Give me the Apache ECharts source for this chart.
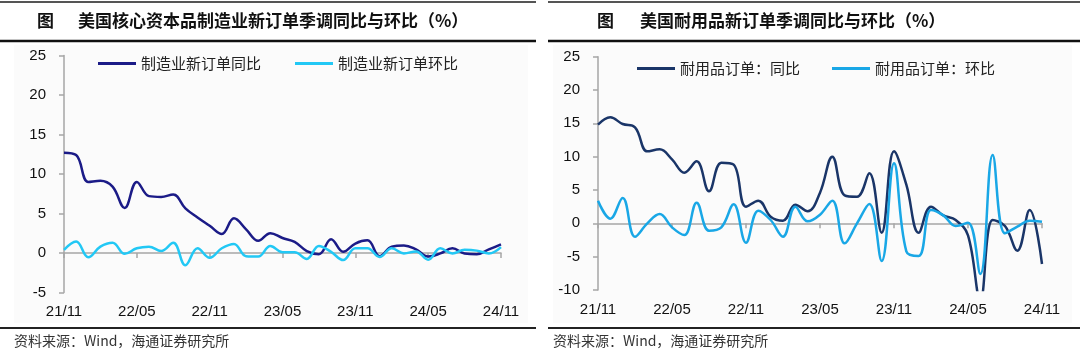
<!DOCTYPE html>
<html>
<head>
<meta charset="utf-8">
<script src="https://cdn.jsdelivr.net/npm/echarts@6/dist/echarts.min.js"></script>
<style>
html, body { margin: 0; padding: 0; background: #fff; }
#chart { width: 1080px; height: 351px; }
</style>
</head>
<body>
<div id="chart"></div>
<script>
// 月份（21/11 - 24/11）
var months = ['21/11','21/12',
  '22/01','22/02','22/03','22/04','22/05','22/06','22/07','22/08','22/09','22/10','22/11','22/12',
  '23/01','23/02','23/03','23/04','23/05','23/06','23/07','23/08','23/09','23/10','23/11','23/12',
  '24/01','24/02','24/03','24/04','24/05','24/06','24/07','24/08','24/09','24/10','24/11'];

// 左图：核心资本品制造业新订单
var capYoy = [12.7, 12.4, 9.0, 9.15, 8.4, 5.7, 9.0, 7.2, 7.1, 7.4, 5.65, 4.5, 3.45, 2.4, 4.4, 3.0, 1.55, 2.5,
  1.9, 1.4, 0.25, -0.15, 1.75, 0.15, 1.2, 1.6, -0.4, 0.8, 0.95, 0.45, -0.45, -0.05, 0.6, -0.05, -0.15, 0.45, 1.1];
var capMom = [0.4, 1.45, -0.55, 0.8, 1.3, -0.1, 0.6, 0.8, 0.25, 1.3, -1.55, 0.6, -0.6, 0.6, 1.15, -0.4, -0.45, 0.9,
  0.1, 0.1, -0.75, 0.9, 0.15, -0.9, 0.6, 0.6, -0.5, 0.6, -0.05, 0.2, -0.85, 0.6, -0.05, 0.4, 0.3, -0.05, 0.75];

// 右图：耐用品新订单
var durYoy = [14.8, 15.9, 14.9, 14.4, 10.8, 11.1, 9.6, 7.6, 9.3, 4.8, 9.1, 8.8, 2.5, 3.4, 1.0, 0.4, 2.8, 1.8,
  4.6, 10.0, 4.2, 4.0, 7.5, -1.4, 10.8, 5.8, -1.4, 2.5, 1.2, 0.5, -1.8, -11.5, 0.5, -0.4, -4.1, 2.0, -6.1];
var durMom = [3.4, 0.7, 3.8, -2.0, 0.0, 1.4, -0.6, -1.75, 3.1, -1.1, -0.6, 2.85, -2.9, 1.9, 0.5, -2.0, 2.5, 0.3,
  1.3, 3.4, -3.0, 0.0, 2.9, -5.65, 9.0, -4.2, -4.9, 2.0, 1.2, -0.4, 0.1, -7.6, 10.25, -1.5, -0.5, 0.4, 0.25];

var names = ['制造业新订单同比', '制造业新订单环比', '耐用品订单：同比', '耐用品订单：环比'];

var axisGray = '#a6a6a6',
    cjkFont = 'Noto Sans CJK SC',
    numFont = 'Liberation Sans';

// 底部只放标签的横轴
function labelAxis(gridIndex) {
  return {
    type: 'category', gridIndex: gridIndex, data: months, boundaryGap: false, position: 'bottom',
    axisLine: { show: false, onZero: false },
    axisTick: { show: false },
    axisLabel: { interval: 5, margin: 12, fontSize: 15, color: '#111', fontFamily: numFont }
  };
}

// 0 轴上的横线和刻度
function zeroAxis(gridIndex) {
  return {
    type: 'category', gridIndex: gridIndex, data: months, boundaryGap: false, position: 'bottom',
    axisLine: { show: true, onZero: true, lineStyle: { color: axisGray, width: 1.5 } },
    axisTick: { show: true, interval: 5, length: 5, lineStyle: { color: axisGray, width: 1.5 } },
    axisLabel: { show: false }
  };
}

function valueAxis(gridIndex, min) {
  return {
    type: 'value', gridIndex: gridIndex, min: min, max: 25, interval: 5,
    axisLine: { show: true, lineStyle: { color: axisGray, width: 1.5 } },
    axisTick: { show: true, length: 5, lineStyle: { color: axisGray, width: 1.5 } },
    splitLine: { show: false },
    axisLabel: { margin: 18, fontSize: 15, color: '#111', fontFamily: numFont }
  };
}

function lineSeries(name, data, color, axisIdx) {
  return {
    name: name, type: 'line', data: data, xAxisIndex: axisIdx[0], yAxisIndex: axisIdx[1],
    smooth: 0.4, symbol: 'none', clip: true,
    lineStyle: { color: color, width: 2.5 },
    itemStyle: { color: color }
  };
}

function legendBox(data, left, top, gap) {
  return {
    data: data, left: left, top: top, icon: 'rect', itemWidth: 38, itemHeight: 3, itemGap: gap,
    selectedMode: false,
    textStyle: { fontSize: 15, color: '#222', fontFamily: cjkFont }
  };
}

function titleText(x, str) {
  return { type: 'text', left: x, top: 12, style: { text: str, font: 'bold 17px "Noto Sans CJK SC"', fill: '#111' } };
}

function rule(x1, x2, y, w, color) {
  return { type: 'line', shape: { x1: x1, y1: y, x2: x2, y2: y }, style: { stroke: color, lineWidth: w } };
}

var chart = echarts.init(document.getElementById('chart'));

chart.setOption({
  backgroundColor: '#fff',
  animation: false,
  grid: [
    { left: 64, top: 55.5, width: 437, height: 237 },
    { left: 598, top: 56.7, width: 444, height: 233.3 }
  ],
  xAxis: [labelAxis(0), zeroAxis(0), labelAxis(1), zeroAxis(1)],
  yAxis: [valueAxis(0, -5), valueAxis(1, -10)],
  legend: [
    legendBox([names[0], names[1]], 93, 51, 34),
    legendBox([names[2], names[3]], 632, 56, 32)
  ],
  graphic: [
    { type: 'rect', z: -10, shape: { x: 14, y: 45, width: 514, height: 278 }, style: { fill: '#fbfbfb' } },
    { type: 'rect', z: -10, shape: { x: 553, y: 45, width: 519, height: 278 }, style: { fill: '#fbfbfb' } },
    rule(0, 536, 2, 2, '#555'),
    rule(548, 1080, 2, 2, '#555'),
    rule(0, 536, 41, 2.5, '#111'),
    rule(548, 1080, 41, 2.5, '#111'),
    rule(0, 536, 328, 2, '#222'),
    rule(548, 1080, 328, 2, '#222'),
    titleText(37, '图'),
    titleText(78, '美国核心资本品制造业新订单季调同比与环比（%）'),
    titleText(597, '图'),
    titleText(640, '美国耐用品新订单季调同比与环比（%）'),
    { type: 'text', left: 14, top: 334, style: { text: '资料来源：Wind，海通证券研究所', font: '14px "Noto Sans CJK SC"', fill: '#333' } },
    { type: 'text', left: 553, top: 334, style: { text: '资料来源：Wind，海通证券研究所', font: '14px "Noto Sans CJK SC"', fill: '#333' } }
  ],
  series: [
    lineSeries(names[0], capYoy, '#1b1b87', [0, 0]),
    lineSeries(names[1], capMom, '#22c8f5', [0, 0]),
    lineSeries(names[2], durYoy, '#1a3568', [2, 1]),
    lineSeries(names[3], durMom, '#19a7e6', [2, 1])
  ]
});
</script>
</body>
</html>
